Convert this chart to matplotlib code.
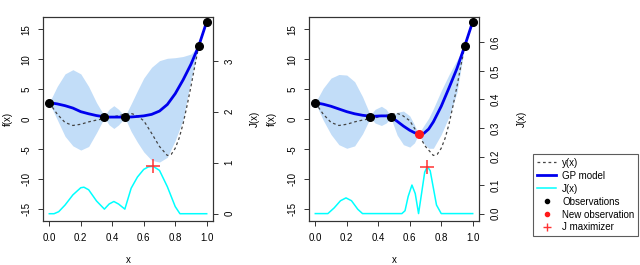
"""
GP + criterio J em duas etapas (antes / depois da nova observacao).
Valores lidos da figura de referencia.
"""
import matplotlib
matplotlib.use('Agg')
import matplotlib.pyplot as plt
from matplotlib.lines import Line2D

plt.rcParams['font.family'] = ['Liberation Sans', 'DejaVu Sans']
plt.rcParams['axes.unicode_minus'] = False

# ====== DADOS ======
x_true = [0, .05, .1, .15, .2, .25, .3, .35, .4, .45, .5, .52, .55, .6, .65, .7,
          .75, .775, .8, .825, .85, .875, .9, .925, .95, .975, 1.0]
y_true = [2.8, 0.9, -0.5, -1.0, -0.8, -0.4, -0.1, 0.15, 0.4, 0.7, 0.95, 1.0, 0.75,
          -0.2, -2.3, -4.5, -6.0, -5.8, -4.8, -3.1, -0.7, 2.3, 5.5, 9.0, 12.3, 14.3, 16.3]

obs_x = [0.0, 0.35, 0.48, 0.95, 1.0]
obs_f = [2.8, 0.45, 0.4, 12.3, 16.3]
new_x, new_f = [0.656], [-2.45]

# painel esquerdo
gp_x_left = [0, .05, .1, .15, .2, .25, .3, .35, .38, .41, .44, .48, .52, .56, .6,
             .65, .7, .75, .8, .85, .9, .95, 1.0]
mean_left = [2.8, 2.6, 2.3, 1.9, 1.3, 0.95, 0.65, 0.45, 0.4, 0.4, 0.4, 0.4, 0.42,
             0.5, 0.6, 0.85, 1.4, 2.5, 4.3, 6.6, 9.2, 12.3, 16.3]
upper_left = [2.8, 5.5, 7.6, 8.3, 7.6, 5.5, 2.8, 0.6, 1.7, 2.3, 1.7, 0.5, 2.6, 4.8,
              6.9, 8.7, 9.8, 10.2, 10.3, 10.5, 10.9, 12.3, 16.3]
lower_left = [2.8, 0.0, -2.8, -4.4, -5.1, -4.5, -2.2, 0.3, -0.9, -1.5, -0.9, 0.3,
              -2.0, -3.8, -5.4, -6.8, -7.1, -6.3, -3.5, 0.0, 6.6, 12.3, 16.3]
j_x_left = [0, .03, .06, .1, .15, .2, .22, .25, .3, .35, .38, .41, .44, .48, .52,
            .56, .6, .63, .66, .7, .75, .8, .83, 1.0]
j_left = [0, 0, 0.04, 0.17, 0.37, 0.51, 0.52, 0.47, 0.25, 0.09, 0.19, 0.24, 0.19,
          0.09, 0.5, 0.72, 0.87, 0.92, 0.93, 0.85, 0.53, 0.14, 0.0, 0]
jmax_left = (0.66, 0.93)

# painel direito
gp_x_right = [0, .05, .1, .15, .2, .25, .3, .35, .38, .42, .45, .48, .52, .56, .6,
              .63, .656, .69, .72, .75, .8, .85, .9, .95, 1.0]
mean_right = [2.8, 2.55, 2.2, 1.75, 1.3, 0.95, 0.7, 0.55, 0.55, 0.6, 0.6, 0.45,
              -0.3, -1.1, -1.8, -2.2, -2.45, -2.3, -1.6, -0.4, 2.2, 5.3, 8.5, 12.3, 16.3]
upper_right = [2.8, 5.2, 6.9, 7.5, 7.4, 6.3, 3.8, 0.7, 1.7, 2.2, 1.7, 0.5, 1.2,
               1.4, 0.6, -0.9, -2.45, -1.0, 0.2, 1.8, 4.8, 7.5, 9.9, 12.3, 16.3]
lower_right = [2.8, -0.1, -2.5, -4.2, -4.8, -4.4, -2.4, 0.3, -0.6, -1.0, -0.6, 0.3,
               -2.6, -4.2, -4.6, -3.9, -2.45, -4.0, -4.8, -4.8, -2.5, 0.5, 4.5, 12.3, 16.3]
j_x_right = [0, .08, .12, .16, .195, .23, .27, .3, .55, .57, .59, .614, .635, .656,
             .675, .695, .712, .73, .75, .77, .8, 1.0]
j_right = [0, 0, 0.02, 0.045, 0.055, 0.045, 0.015, 0, 0, 0.01, 0.06, 0.1, 0.07,
           0.0, 0.07, 0.145, 0.165, 0.15, 0.09, 0.03, 0, 0]
jmax_right = (0.712, 0.165)

f_ticks = [-15, -10, -5, 0, 5, 10, 15]
x_ticks = [0.0, 0.2, 0.4, 0.6, 0.8, 1.0]
j_ticks_left = [0, 1, 2, 3]
j_ticks_right = [0.0, 0.1, 0.2, 0.3, 0.4, 0.5, 0.6]
# ===================

BAND = '#C2DDF8'
FS = 7.0
W, H = 640, 265

fig = plt.figure(figsize=(W / 100, H / 100), dpi=100)


def style_axis(ax):
    for s in ax.spines.values():
        s.set_color('#333333')
        s.set_linewidth(0.8)
    ax.tick_params(length=3.5, width=0.7, color='#333333', labelsize=FS, pad=5)


def panel(left_px, gp_x, mean, upper, lower, j_x, j, jmax, j_ylim, j_ticks,
          j_fmt, new_obs=False):
    ax = fig.add_axes([left_px / W, 1 - 221 / H, 170 / W, 204 / H])
    ax.fill_between(gp_x, lower, upper, color=BAND, lw=0, zorder=1)
    ax.plot(x_true, y_true, color='#444444', lw=0.9, dashes=(2.2, 2.2), zorder=2)
    ax.plot(gp_x, mean, color='#0000EE', lw=2.0, zorder=3)
    ax.plot(obs_x, obs_f, 'o', color='black', ms=5.5, zorder=4)
    if new_obs:
        ax.plot(new_x, new_f, 'o', color='#FF1A1A', ms=5.5, zorder=5)
    ax.set_xlim(-0.04, 1.04)
    ax.set_ylim(-16.92, 17.08)
    ax.set_xticks(x_ticks)
    ax.set_xticklabels([f'{v:.1f}' for v in x_ticks])
    ax.set_yticks(f_ticks)
    ax.set_yticklabels([str(v) for v in f_ticks], rotation=90, va='center')
    style_axis(ax)

    ax2 = ax.twinx()
    ax2.plot(j_x, j, color='#00FFFF', lw=1.1)
    ax2.plot([jmax[0]], [jmax[1]], '+', color='#FF3333', ms=10, mew=1.1)
    ax2.set_ylim(*j_ylim)
    ax2.set_yticks(j_ticks)
    ax2.set_yticklabels([j_fmt(v) for v in j_ticks], rotation=90, va='center')
    style_axis(ax2)
    return ax


panel(43, gp_x_left, mean_left, upper_left, lower_left, j_x_left, j_left,
      jmax_left, (-0.143, 3.86), j_ticks_left, lambda v: f'{v:d}')
panel(309, gp_x_right, mean_right, upper_right, lower_right, j_x_right, j_right,
      jmax_right, (-0.026, 0.689), j_ticks_right, lambda v: f'{v:.1f}', new_obs=True)

# rotulos dos eixos
for xp, txt in [(8, 'f(x)'), (255, 'J(x)'), (272, 'f(x)'), (522, 'J(x)')]:
    fig.text(xp / W, 1 - 119 / H, txt, rotation=90, ha='center', va='center',
             fontsize=FS)
for xp in [128, 394]:
    fig.text(xp / W, 1 - 260 / H, 'x', ha='center', va='center', fontsize=FS)

handles = [
    Line2D([], [], color='#444444', lw=0.9, dashes=(2.2, 2.2)),
    Line2D([], [], color='#0000EE', lw=2.0),
    Line2D([], [], color='#00FFFF', lw=1.1),
    Line2D([], [], ls='none', marker='o', color='black', ms=3),
    Line2D([], [], ls='none', marker='o', color='#FF1A1A', ms=3),
    Line2D([], [], ls='none', marker='+', color='#FF3333', ms=6, mew=1.0),
]
labels = ['y(x)', 'GP model', 'J(x)', 'Observations', 'New observation', 'J maximizer']
leg = fig.legend(handles, labels, loc='upper left',
                 bbox_to_anchor=(533 / W, 1 - 154 / H), fontsize=FS,
                 frameon=True, fancybox=False, edgecolor='#333333',
                 handlelength=2.0, handletextpad=0.6, labelspacing=0.3,
                 borderpad=0.4, borderaxespad=0)
leg.get_frame().set_linewidth(0.8)

fig.savefig('out.png', dpi=100)
